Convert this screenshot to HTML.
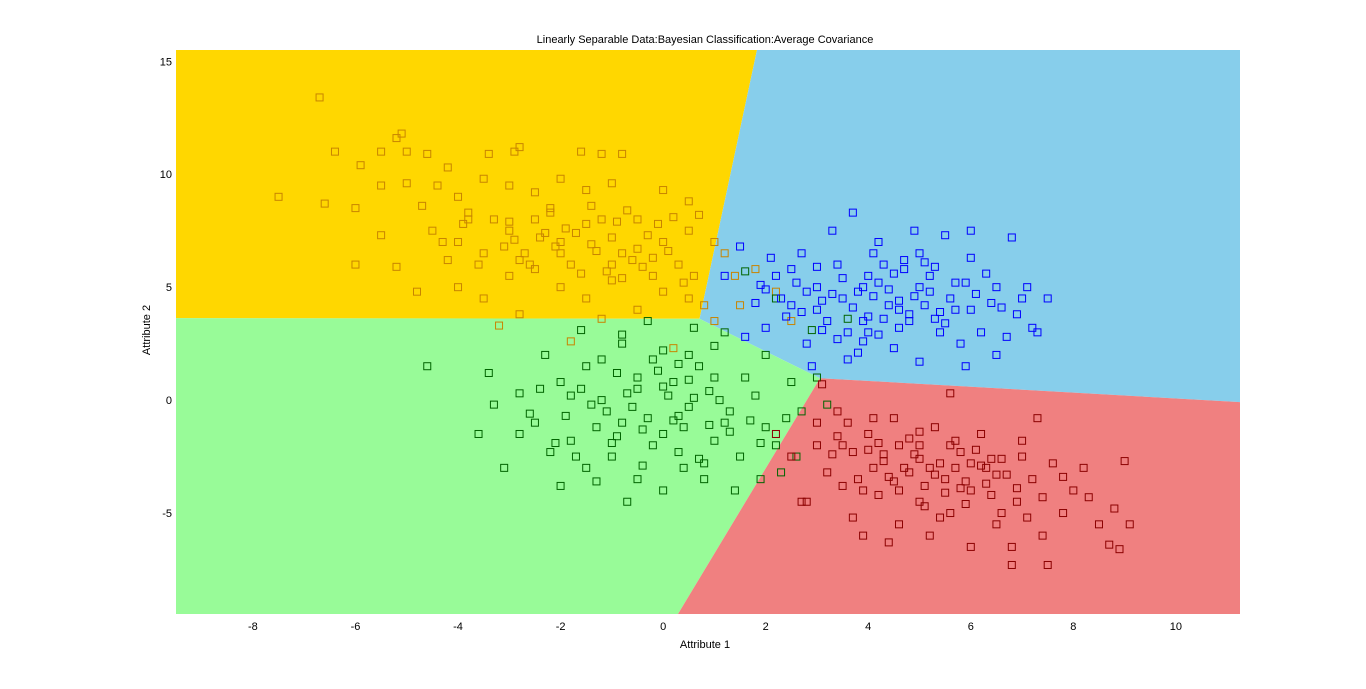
<!DOCTYPE html>
<html><head><meta charset="utf-8"><style>
html,body{margin:0;padding:0;background:#fff;}
svg{display:block;font-family:"Liberation Sans",sans-serif;}
</style></head><body>
<svg id="chart" width="1366" height="689"></svg>
<script>
const xTicks=[-8,-6,-4,-2,0,2,4,6,8,10];
const yTicks=[-5,0,5,10,15];
const yellowX=[-6.7,-5.1,-5.2,-6.4,-5.9,-5.5,-5,-4.6,-4.2,-3.4,-2.9,-2.8,-1.6,-1.2,-0.8,-7.5,-6.6,-6,-5.5,-5,-4.4,-4,-3.5,-3,-2.5,-2,-1.5,-1,0,0.5,-6,-5.2,-4.8,-4.5,-4,-3.5,-3,-2.8,-2.5,-2,-1.8,-1.5,-1,-0.8,-0.5,0,0.3,0.5,1,1.2,-4,-3.5,-3,-2,-1.5,-1,-0.5,0,0.5,0.8,-3.2,-2.8,-1.2,-2.2,-3.8,-4.2,-5.5,-0.2,1.4,1.8,2.2,2.5,1.5,1.0,-1.8,0.2,
-2.4,-2.1,-1.7,-1.3,-0.9,-0.6,-0.3,0.1,-2.6,-2.2,-1.9,-1.4,-1.1,-0.7,-0.4,-0.1,-3.3,-3.1,-2.7,-2.3,-1.6,-1.2,-0.8,-0.2,0.4,0.7,-3.8,-4.3,-4.7,-3.6,-2.9,-2.0,-1.0,-0.5,0.2,0.6,-1.4,-2.5,-3.0,-3.9];
const yellowY=[13.4,11.8,11.6,11,10.4,11,11,10.9,10.3,10.9,11,11.2,11,10.9,10.9,9,8.7,8.5,9.5,9.6,9.5,9,9.8,9.5,9.2,9.8,9.3,9.6,9.3,8.8,6,5.9,4.8,7.5,7,6.5,7.5,6.2,8,7,6,7.8,7.2,6.5,8,7,6,7.5,7,6.5,5,4.5,5.5,5,4.5,5.3,4,4.8,4.5,4.2,3.3,3.8,3.6,8.5,8.3,6.2,7.3,5.5,5.5,5.8,4.8,3.5,4.2,3.5,2.6,2.3,
7.2,6.8,7.4,6.6,7.9,6.2,7.3,6.6,6.0,8.3,7.6,8.6,5.7,8.4,5.9,7.8,8.0,6.8,6.5,7.4,5.6,8.0,5.4,6.3,5.2,8.2,8.0,7.0,8.6,6.0,7.1,6.5,6.0,6.7,8.1,5.5,6.9,5.8,7.9,7.8];
const greenX=[-4.6,-3.4,-3.3,-3.1,-2.8,-2.5,-2.2,-2,-1.8,-1.5,-1.5,-1.2,-1,-0.8,-0.8,-0.5,-0.5,-0.2,0,0,0.2,0.3,0.5,0.5,0.8,1,1,1.2,1.3,1.5,1.8,2,2,2.3,2.5,2.7,3,-2.8,-2.3,-1.8,-1.3,-0.9,-0.3,0.1,0.4,0.7,1.1,-1.6,-0.3,0.6,-2,-0.7,1.4,1.9,2.6,3.2,-3.6,2.9,3.6,2.2,1.6,
-1.1,-0.7,-0.4,0.0,0.3,0.6,0.9,-1.4,-1.0,-0.6,-0.2,0.2,0.5,0.9,1.3,-1.9,-1.6,-0.9,-0.1,0.7,1.6,-2.4,-1.2,0.0,1.0,2.2,-0.4,0.4,-1.7,1.7,-2.6,-0.5,0.8,1.9,-1.3,0.3,-0.8,2.4,-2.1,1.2];
const greenY=[1.5,1.2,-0.2,-3,0.3,-1,-2.3,0.8,-1.8,1.5,-3,0,-2.5,2.5,-1,0.5,-3.5,1.8,-1.5,-4,0.8,-2.3,2,-0.3,-3.5,1,-1.8,3,-0.5,-2.5,0.2,-1.2,2,-3.2,0.8,-0.5,1,-1.5,2,0.2,-1.2,1.2,-0.8,0.2,-1.2,1.5,0,3.1,3.5,3.2,-3.8,-4.5,-4,-3.5,-2.5,-0.2,-1.5,3.1,3.6,4.5,5.7,
-0.5,0.3,-1.3,0.6,-0.7,0.1,-1.1,-0.2,-1.9,-0.3,-2.0,-0.9,0.9,0.4,-1.4,-0.7,0.5,-1.6,1.3,-2.6,1.0,0.5,1.8,2.2,2.4,-2.0,-2.9,-3.0,-2.5,-0.9,-0.6,1.0,-2.8,-1.9,-3.6,1.6,2.9,-0.8,-1.9,-1.0];
const blueX=[1.2,1.5,1.8,2,2.2,2.5,2.7,2.8,3,3.2,3.3,3.5,3.7,3.8,4,4,4.2,4.4,4.5,4.7,4.8,5,5,5.2,5.4,5.5,5.7,5.8,6,6,6.2,6.5,6.5,6.8,7,7.2,7.5,3,3.4,3.9,4.3,4.6,5.1,5.6,6.3,2.4,2.9,3.6,5.9,6.7,7.3,1.6,2.1,4.9,6,4.1,3.1,5.3,7.1,2.6,
3.3,3.7,4.2,4.6,5.0,5.4,3.5,3.9,4.4,4.8,5.2,3.1,3.8,4.5,5.7,2.8,2.3,1.9,4.0,4.9,6.1,6.6,3.6,4.3,5.5,3.0,2.5,4.7,5.9,6.9,3.4,4.1,5.1,6.4,2.0,3.9,4.6,5.3,2.7,4.2];
const blueY=[5.5,6.8,4.3,3.2,5.5,4.2,6.5,2.5,5,3.5,7.5,4.5,8.3,2.1,5.5,3,7,4.2,2.3,5.8,3.5,6.5,1.7,4.8,3,7.3,5.2,2.5,4,6.3,3,5,2,7.2,4.5,3.2,4.5,4,6,5,6,3.2,4.2,4.5,5.6,3.7,1.5,1.8,1.5,2.8,3,2.8,6.3,7.5,7.5,4.6,3.1,5.9,5,5.2,
4.7,4.1,5.2,4.4,5.0,3.9,5.4,3.5,4.9,3.8,5.5,4.4,4.8,5.6,4.0,4.8,4.5,5.1,3.7,4.6,4.7,4.1,3.0,3.6,3.4,5.9,5.8,6.2,5.2,3.8,2.7,6.5,6.1,4.3,4.9,2.6,4.0,3.6,3.9,2.9];
const redX=[2.2,2.5,2.8,3,3.2,3.4,3.5,3.7,3.8,4,4.2,4.3,4.5,4.6,4.8,5,5,5.2,5.3,5.5,5.6,5.8,6,6,6.2,6.3,6.5,6.6,6.8,6.9,7,7.2,7.4,7.5,7.6,7.8,8,8.2,8.5,8.7,8.9,9.1,8.8,9,3.6,4.1,4.6,5.1,5.7,6.1,6.4,7.1,2.7,3.9,5.4,6.8,3.1,5.6,7.3,4.4,
4.3,4.7,5.0,5.3,5.6,5.9,6.2,4.5,4.9,5.4,5.8,6.4,3.7,4.0,4.4,5.2,6.0,6.7,3.4,3.3,4.8,5.5,6.3,7.0,3.9,4.2,5.1,5.7,6.5,7.4,3.0,3.5,4.6,6.9,7.8,5.0,5.9,8.3,4.1,6.6];
const redY=[-1.5,-2.5,-4.5,-1,-3.2,-0.5,-2,-5.2,-3.5,-1.5,-4.2,-2.7,-0.8,-5.5,-3.2,-2,-4.5,-6,-1.2,-3.5,-5,-2.3,-6.5,-4,-1.5,-3,-5.5,-2.6,-7.3,-4.5,-1.8,-3.5,-6,-7.3,-2.8,-5,-4,-3,-5.5,-6.4,-6.6,-5.5,-4.8,-2.7,-1,-3,-2,-3.8,-3,-2.2,-4.2,-5.2,-4.5,-6,-5.2,-6.5,0.7,0.3,-0.8,-6.3,
-2.4,-3.0,-2.6,-3.3,-2.0,-3.6,-2.9,-3.6,-2.4,-2.8,-3.9,-2.6,-2.3,-2.2,-3.4,-3.0,-2.8,-3.3,-1.6,-2.4,-1.7,-4.1,-3.7,-2.5,-4.0,-1.9,-4.7,-1.8,-3.3,-4.3,-2.0,-3.8,-4.0,-3.9,-3.4,-1.4,-4.6,-4.3,-0.8,-5.0];

const NS="http://www.w3.org/2000/svg";
const svg=document.getElementById('chart');
const X0=176,X1=1240,Y0=50,Y1=614;
const xMin=-9.5,xMax=11.25,yMin=-9.47,yMax=15.5;
const sx=v=>X0+(v-xMin)/(xMax-xMin)*(X1-X0);
const sy=v=>Y1-(v-yMin)/(yMax-yMin)*(Y1-Y0);
function mk(t,a){const e=document.createElementNS(NS,t);for(const k in a)e.setAttribute(k,a[k]);svg.appendChild(e);return e;}
function poly(pts,fill,name){
  const e=mk('polygon',{points:pts.map(p=>sx(p[0])+','+sy(p[1])).join(' '),fill:fill});
  
  
}
const J1=[0.71,3.6],J2=[3.06,0.97];
poly([[xMin,yMax],[1.83,yMax],J1,[xMin,3.63]],'#FFD700','region-class-1');
poly([[1.83,yMax],[xMax,yMax],[xMax,-0.09],J2,J1],'#87CEEB','region-class-2');
poly([[xMin,3.63],J1,J2,[0.29,yMin],[xMin,yMin]],'#98FB98','region-class-3');
poly([J2,[xMax,-0.09],[xMax,yMin],[0.29,yMin]],'#F08080','region-class-4');

function series(xs,ys,color,name){
  for(let i=0;i<xs.length;i++){
    const r=mk('rect',{x:sx(xs[i])-3.5,y:sy(ys[i])-3.5,width:7,height:7,fill:'none',stroke:color,'stroke-width':1});
    
    
  }
}
series(yellowX,yellowY,'#c88400','class-1');
series(greenX,greenY,'#006400','class-3');
series(blueX,blueY,'#0000ff','class-2');
series(redX,redY,'#8b0000','class-4');

xTicks.forEach(v=>{
  const t=mk('text',{x:sx(v),y:630,'font-size':11,'text-anchor':'middle',fill:'#000'});
  t.textContent=v;
  
  
});
yTicks.forEach(v=>{
  const t=mk('text',{x:172,y:sy(v)+4,'font-size':11,'text-anchor':'end',fill:'#000'});
  t.textContent=v;
  
  
});
const tt=mk('text',{x:705,y:43,'font-size':11,'text-anchor':'middle',fill:'#000'});
tt.textContent='Linearly Separable Data:Bayesian Classification:Average Covariance';


const xl=mk('text',{x:705,y:648,'font-size':11,'text-anchor':'middle',fill:'#000'});
xl.textContent='Attribute 1';


const yl=mk('text',{x:150,y:330,'font-size':11,'text-anchor':'middle',fill:'#000',transform:'rotate(-90 150 330)'});
yl.textContent='Attribute 2';


</script>
</body></html>
